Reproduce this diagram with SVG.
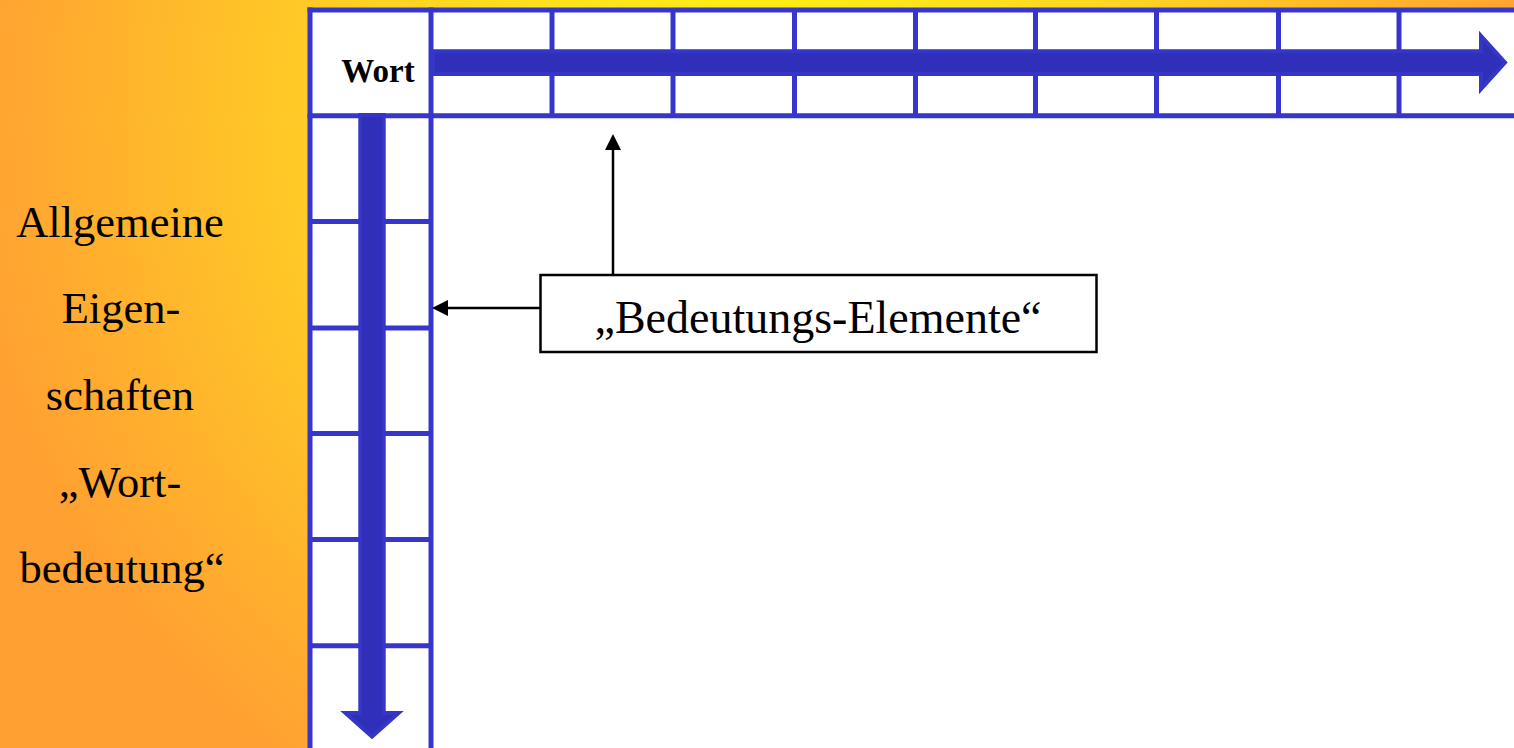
<svg xmlns="http://www.w3.org/2000/svg" width="1514" height="748" viewBox="0 0 1514 748">
  <defs>
    <radialGradient id="bgGlow" gradientUnits="userSpaceOnUse" cx="760" cy="120" r="800">
      <stop offset="0" stop-color="#FFF512"/>
      <stop offset="0.5" stop-color="#FFD224"/>
      <stop offset="1" stop-color="#FFA032"/>
    </radialGradient>
    <marker id="head" viewBox="0 0 16 16" refX="1" refY="8" markerWidth="16" markerHeight="16" markerUnits="userSpaceOnUse" orient="auto">
      <path d="M0,0 L16,8 L0,16 z" fill="#000"/>
    </marker>
    <style>
      .grid { stroke: #3636CC; stroke-width: 5; fill: none; }
      .bigarrow { fill: #2F2FB9; stroke: #3535C8; stroke-width: 4; stroke-linejoin: miter; }
      .side { font-family: "Liberation Serif", serif; font-size: 44.5px; fill: #000; text-anchor: middle; }
      .label { font-family: "Liberation Serif", serif; font-size: 46px; fill: #000; text-anchor: middle; }
      .head { font-family: "Liberation Serif", serif; font-size: 33px; font-weight: bold; fill: #000; text-anchor: middle; }
      .conn { stroke: #000; stroke-width: 2.5; fill: none; }
    </style>
  </defs>

  <!-- backdrop -->
  <rect x="0" y="0" width="1514" height="748" fill="url(#bgGlow)"/>
  <rect x="310" y="10" width="1210" height="745" fill="#FFFFFF"/>

  <!-- side caption -->
  <g id="caption">
    <text class="side" x="120" y="237">Allgemeine</text>
    <text class="side" x="121" y="323">Eigen-</text>
    <text class="side" x="120" y="410">schaften</text>
    <text class="side" x="120" y="497">„Wort-</text>
    <text class="side" x="122" y="583">bedeutung“</text>
  </g>

  <!-- table grid -->
  <g id="grid">
    <line class="grid" x1="307.5" y1="10" x2="1514" y2="10"/>
    <line class="grid" x1="307.5" y1="115.7" x2="1514" y2="115.7"/>
    <line class="grid" x1="310" y1="7.5" x2="310" y2="748"/>
    <line class="grid" x1="431" y1="7.5" x2="431" y2="748"/>
    <!-- columns of the header row -->
    <line class="grid" x1="552" y1="10" x2="552" y2="115.7"/>
    <line class="grid" x1="673" y1="10" x2="673" y2="115.7"/>
    <line class="grid" x1="794.5" y1="10" x2="794.5" y2="115.7"/>
    <line class="grid" x1="915.5" y1="10" x2="915.5" y2="115.7"/>
    <line class="grid" x1="1035.5" y1="10" x2="1035.5" y2="115.7"/>
    <line class="grid" x1="1156.5" y1="10" x2="1156.5" y2="115.7"/>
    <line class="grid" x1="1278.5" y1="10" x2="1278.5" y2="115.7"/>
    <line class="grid" x1="1399" y1="10" x2="1399" y2="115.7"/>
    <!-- rows of the first column -->
    <line class="grid" x1="310" y1="221.5" x2="431" y2="221.5"/>
    <line class="grid" x1="310" y1="328" x2="431" y2="328"/>
    <line class="grid" x1="310" y1="433.5" x2="431" y2="433.5"/>
    <line class="grid" x1="310" y1="539.5" x2="431" y2="539.5"/>
    <line class="grid" x1="310" y1="645.7" x2="431" y2="645.7"/>
  </g>

  <!-- corner cell -->
  <g id="wort">
    <text class="head" x="378" y="82">Wort</text>
  </g>

  <!-- axis arrows -->
  <g id="axis-horizontal">
    <polygon class="bigarrow" points="433,51.3 1481,51.3 1481,36 1505,62.5 1481,89 1481,74 433,74"/>
  </g>
  <g id="axis-vertical">
    <polygon class="bigarrow" points="360.3,115 383.7,115 383.7,713 398.5,713 372,736.5 345.5,713 360.3,713"/>
  </g>

  <!-- label box -->
  <g id="elements">
    <rect x="540.5" y="275" width="556" height="77" fill="#FFFFFF" stroke="#000" stroke-width="2.5"/>
    <text class="label" x="818" y="333">„Bedeutungs-Elemente“</text>
  </g>

  <!-- pointers -->
  <g id="connectors">
    <line class="conn" x1="613" y1="275" x2="613" y2="149" marker-end="url(#head)"/>
    <line class="conn" x1="540" y1="308" x2="447" y2="308" marker-end="url(#head)"/>
  </g>
</svg>
